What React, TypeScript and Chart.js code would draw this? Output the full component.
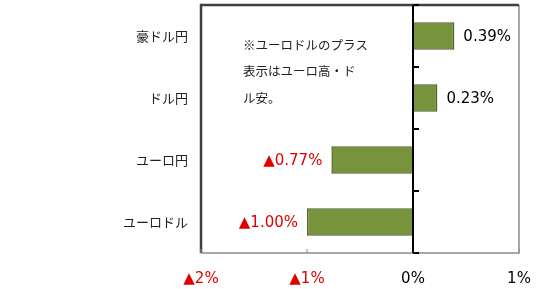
import React, { useEffect, useRef } from "react";
import { Chart, registerables } from "chart.js";

Chart.register(...registerables);

const categories = ["豪ドル円", "ドル円", "ユーロ円", "ユーロドル"];
const values = [0.39, 0.23, -0.77, -1.0];
const xTicks = [-2, -1, 0, 1];
const noteLines = ["※ユーロドルのプラス", "表示はユーロ高・ド", "ル安。"];

const RED = "#E00000";
const NUM_FONT = "15px 'DejaVu Sans'";
const fmt = (v: number) => (v < 0 ? "▲" : "") + Math.abs(v).toFixed(2) + "%";
const fmtTick = (v: number) => (v < 0 ? "▲" : "") + Math.abs(v) + "%";

const decorPlugin = {
  id: "decor",
  afterDatasetsDraw(chart: any) {
    const { ctx, chartArea: a, scales } = chart;
    const xs = scales.x;
    const ys = scales.y;
    ctx.save();
    // frame
    ctx.lineWidth = 1.5;
    ctx.strokeStyle = "#8a8a8a";
    ctx.beginPath();
    ctx.moveTo(a.right, a.top);
    ctx.lineTo(a.right, a.bottom);
    ctx.lineTo(a.left, a.bottom);
    ctx.stroke();
    ctx.lineWidth = 2.5;
    ctx.strokeStyle = "#404040";
    ctx.beginPath();
    ctx.moveTo(a.left, a.bottom);
    ctx.lineTo(a.left, a.top);
    ctx.lineTo(a.right, a.top);
    ctx.stroke();
    // bottom tick marks
    ctx.lineWidth = 1;
    ctx.strokeStyle = "#8a8a8a";
    xTicks.forEach((t) => {
      if (t === 0) return;
      const px = xs.getPixelForValue(t);
      ctx.beginPath();
      ctx.moveTo(px, a.bottom);
      ctx.lineTo(px, a.bottom - 4);
      ctx.stroke();
    });
    // zero line
    const zx = xs.getPixelForValue(0);
    ctx.lineWidth = 2;
    ctx.strokeStyle = "#000";
    ctx.beginPath();
    ctx.moveTo(zx, a.top);
    ctx.lineTo(zx, a.bottom);
    ctx.stroke();
    // category boundary ticks
    const step = ys.getPixelForValue(1) - ys.getPixelForValue(0);
    for (let i = 0; i <= categories.length; i++) {
      const py = ys.getPixelForValue(i) - step / 2;
      ctx.beginPath();
      ctx.moveTo(zx, py);
      ctx.lineTo(zx + 6, py);
      ctx.stroke();
    }
    // data labels
    const meta = chart.getDatasetMeta(0);
    ctx.font = NUM_FONT;
    ctx.textBaseline = "middle";
    meta.data.forEach((bar: any, i: number) => {
      const v = values[i];
      if (v >= 0) {
        ctx.fillStyle = "#000";
        ctx.textAlign = "left";
        ctx.fillText(fmt(v), bar.x + 9, bar.y + 1);
      } else {
        ctx.fillStyle = RED;
        ctx.textAlign = "right";
        ctx.fillText(fmt(v), bar.x - 9, bar.y + 1);
      }
    });
    // note
    ctx.font = "12.5px 'Noto Sans CJK JP'";
    ctx.fillStyle = "#222";
    ctx.textAlign = "left";
    noteLines.forEach((line, i) => {
      ctx.fillText(line, a.left + 42, a.top + 40 + i * 26.5);
    });
    ctx.restore();
  },
};

export default function App() {
  const ref = useRef<HTMLCanvasElement>(null);
  useEffect(() => {
    document.body.style.margin = "0";
    const chart = new Chart(ref.current!, {
      type: "bar",
      data: {
        labels: categories,
        datasets: [
          {
            data: values,
            backgroundColor: "#77933C",
            borderColor: "#4F6228",
            borderWidth: 1.5,
            barPercentage: 0.44,
            categoryPercentage: 1,
          },
        ],
      },
      options: {
        indexAxis: "y",
        animation: false,
        responsive: false,
        maintainAspectRatio: false,
        layout: { padding: { top: 5, right: 31, left: 0, bottom: 0 } },
        plugins: { legend: { display: false }, tooltip: { enabled: false } },
        scales: {
          x: {
            min: -2,
            max: 1,
            afterBuildTicks: (s: any) => {
              s.ticks = xTicks.map((v) => ({ value: v }));
            },
            afterFit: (s: any) => {
              s.height = 36;
            },
            grid: { display: false, drawTicks: false },
            border: { display: false },
            ticks: {
              padding: 17,
              font: { family: "'DejaVu Sans'", size: 15 },
              color: (c: any) => (c.tick.value < 0 ? RED : "#000"),
              callback: (v: any) => fmtTick(Number(v)),
            },
          },
          y: {
            afterFit: (s: any) => {
              s.width = 201;
              s.paddingTop = 0;
              s.paddingBottom = 0;
            },
            grid: { display: false, drawTicks: false },
            border: { display: false },
            ticks: {
              padding: 13,
              font: { family: "'Noto Sans CJK JP'", size: 13 },
              color: "#222",
            },
          },
        },
      },
      plugins: [decorPlugin],
    });
    return () => chart.destroy();
  }, []);
  return (
    <div style={{ position: "absolute", left: 0, top: 0, width: 550, height: 289 }}>
      <canvas ref={ref} width={550} height={289} />
    </div>
  );
}
